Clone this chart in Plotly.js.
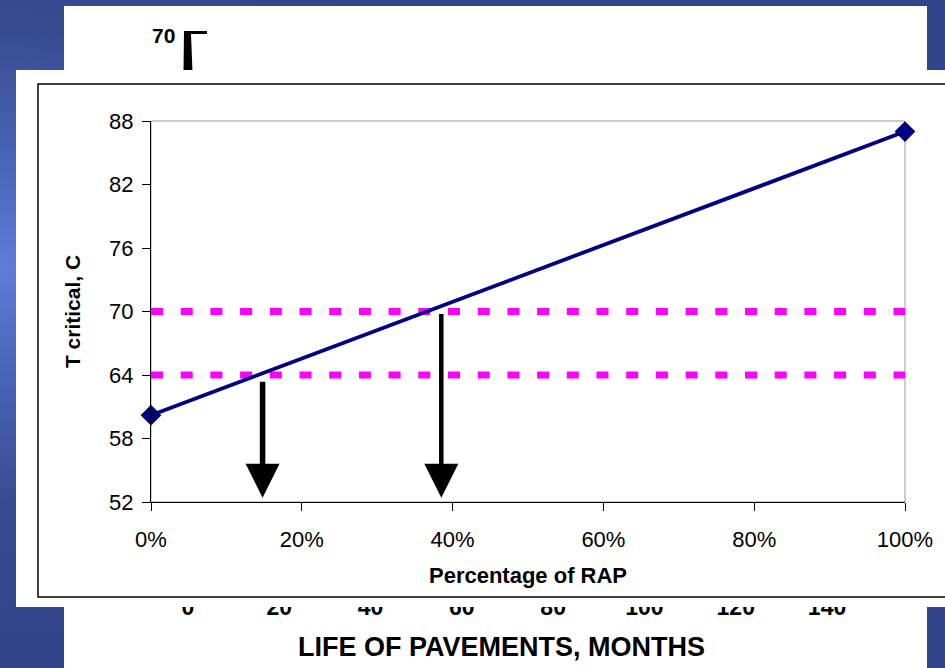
<!DOCTYPE html>
<html>
<head>
<meta charset="utf-8">
<script src="https://cdn.plot.ly/plotly-3.0.1.min.js"></script>
<style>
  html, body { margin: 0; padding: 0; }
  body {
    width: 945px; height: 668px; overflow: hidden;
    background: radial-gradient(ellipse 55% 55% at 0% 40%, #5d7dd8 0%, #4864b8 30%, #384b90 65%, #33458a 100%);
  }
  #chart { width: 945px; height: 668px; }
</style>
</head>
<body>
<div id="chart"></div>
<script>
// ---- data ----
const rapShare = [0, 1];               // percentage of RAP (fraction)
const tCritical = [60.2, 87.0];        // T critical, C
const pgLevels = [70, 64];             // horizontal grade limits
const arrowRap = [0.148, 0.385];       // RAP share where arrows drop
const arrowTop = [63.5, 69.9];         // arrow start (T critical)
const arrowTip = 52.4;                 // arrow end (T critical)
const xTickVals = [0, 0.2, 0.4, 0.6, 0.8, 1];
const xTickText = ['0%', '20%', '40%', '60%', '80%', '100%'];
const yTickVals = [52, 58, 64, 70, 76, 82, 88];
const lifeMonths = [0, 20, 40, 60, 80, 100, 120, 140];   // background slide axis
const backTopLabel = '70';
const backTitle = 'LIFE OF PAVEMENTS, MONTHS';

// ---- layout helpers (pixel -> paper) ----
const W = 945, H = 668;
const px = v => v / W;
const py = v => 1 - v / H;
const FONT = 'Liberation Sans, Arial, sans-serif';

const traces = [];
pgLevels.forEach(lv => {
  traces.push({
    x: [rapShare[0], rapShare[rapShare.length - 1]], y: [lv, lv],
    mode: 'lines', xaxis: 'x', yaxis: 'y',
    line: { color: '#FF00FF', width: 7, dash: '12px,17.7px' },
    hoverinfo: 'skip'
  });
});
traces.push({
  x: rapShare, y: tCritical, mode: 'lines+markers', xaxis: 'x', yaxis: 'y',
  line: { color: '#000080', width: 3.8 },
  marker: { symbol: 'diamond', size: 16, color: '#000080' },
  cliponaxis: false
});
// background slide axis numbers, clipped by the front panel
traces.push({
  x: lifeMonths, y: lifeMonths.map(() => 59), text: lifeMonths.map(String),
  mode: 'text', xaxis: 'x2', yaxis: 'y2', cliponaxis: true,
  textposition: 'middle center',
  textfont: { family: FONT, size: 23, color: '#000', weight: 'bold' },
  hoverinfo: 'skip'
});

const shapes = [
  // back slide panel
  { type: 'rect', xref: 'paper', yref: 'paper', x0: px(64), x1: px(927), y0: py(680), y1: py(6),
    fillcolor: '#ffffff', line: { width: 0 }, layer: 'below' },
  // back slide bracket
  { type: 'path', xref: 'paper', yref: 'paper', layer: 'below',
    path: `M${px(184)},${py(31)} L${px(207)},${py(31)} L${px(207)},${py(34)} L${px(191)},${py(34)} L${px(192.5)},${py(72)} L${px(183.5)},${py(72)} Z`,
    fillcolor: '#000', line: { width: 0 } },
  // front chart panel
  { type: 'rect', xref: 'paper', yref: 'paper', x0: px(16), x1: px(960), y0: py(607), y1: py(70),
    fillcolor: '#ffffff', line: { width: 0 }, layer: 'below' },
  // chart border
  { type: 'rect', xref: 'paper', yref: 'paper', x0: px(38), x1: px(970), y0: py(597), y1: py(84),
    fillcolor: 'rgba(0,0,0,0)', line: { color: '#000', width: 1.5 }, layer: 'below' },
  // plot frame (grey top/right)
  { type: 'rect', xref: 'x domain', yref: 'y domain', x0: 0, x1: 1, y0: 0, y1: 1,
    fillcolor: 'rgba(0,0,0,0)', line: { color: '#9a9a9a', width: 1 }, layer: 'below' }
];

const annotations = [
  { xref: 'paper', yref: 'paper', x: px(163.5), y: py(36), xanchor: 'center', yanchor: 'middle',
    text: '<b>' + backTopLabel + '</b>',
    showarrow: false, font: { family: FONT, size: 21, color: '#000' } },
  { xref: 'paper', yref: 'paper', x: px(501), y: py(647), xanchor: 'center', yanchor: 'middle',
    text: '<b>' + backTitle + '</b>',
    showarrow: false, font: { family: FONT, size: 27, color: '#000' } }
];
const arrowWidths = [5.5, 4.5];
arrowRap.forEach((xv, i) => {
  annotations.push({
    xref: 'x', yref: 'y', axref: 'x', ayref: 'y',
    x: xv, y: arrowTip, ax: xv, ay: arrowTop[i], text: '',
    showarrow: true, arrowhead: 2, arrowcolor: '#000',
    arrowwidth: arrowWidths[i], arrowsize: 34 / (5 * arrowWidths[i]), standoff: 0
  });
});

const layout = {
  width: W, height: H,
  margin: { l: 0, r: 0, t: 0, b: 0 },
  paper_bgcolor: 'rgba(0,0,0,0)', plot_bgcolor: 'rgba(0,0,0,0)',
  showlegend: false, hovermode: false,
  font: { family: FONT, color: '#000' },
  xaxis: {
    domain: [px(151), px(905)], anchor: 'y', range: [0, 1],
    tickvals: xTickVals, ticktext: xTickText,
    ticks: 'outside', ticklen: 8, tickcolor: '#000', tickwidth: 1,
    ticklabelstandoff: 10,
    showline: true, linecolor: '#000', linewidth: 1,
    showgrid: false, zeroline: false,
    tickfont: { family: FONT, size: 22, color: '#000' },
    title: { text: '<b>Percentage of RAP</b>', font: { family: FONT, size: 22, color: '#000' }, standoff: 16 }
  },
  yaxis: {
    domain: [py(502), py(121)], anchor: 'x', range: [52, 88],
    tickvals: yTickVals,
    ticks: 'outside', ticklen: 8, tickcolor: '#000', tickwidth: 1,
    ticklabelstandoff: 4,
    showline: true, linecolor: '#000', linewidth: 1,
    showgrid: false, zeroline: false,
    tickfont: { family: FONT, size: 22, color: '#000' },
    title: { text: '<b>T critical, C</b>', font: { family: FONT, size: 21, color: '#000' }, standoff: 22 }
  },
  xaxis2: { domain: [px(64), px(927)], anchor: 'y2', range: [-27.17, 161.9], visible: false },
  yaxis2: { domain: [0, py(607)], anchor: 'x2', range: [0, 61], visible: false },
  shapes: shapes,
  annotations: annotations
};

Plotly.newPlot('chart', traces, layout, { staticPlot: true, displayModeBar: false });
</script>
</body>
</html>
